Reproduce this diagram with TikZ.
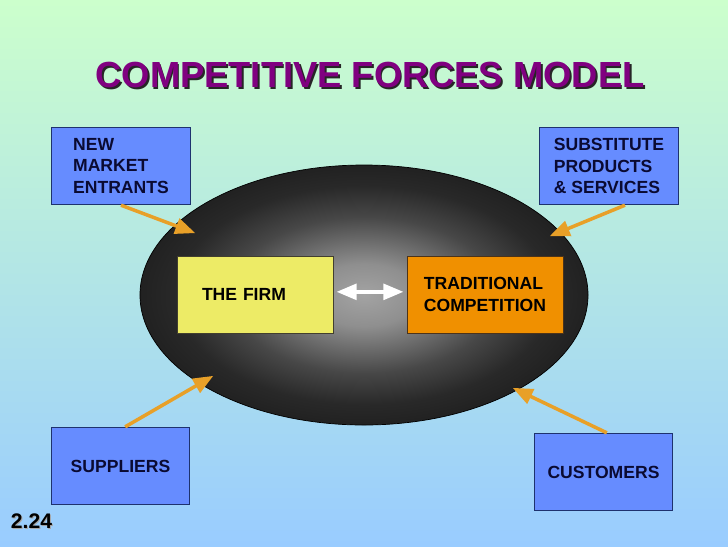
\documentclass[tikz,border=0pt]{standalone}
\usepackage{fontspec}
\setmainfont{Liberation Sans}
\usepackage{tikz}
\usetikzlibrary{arrows}
\usetikzlibrary{shapes.geometric}

\definecolor{forceblue}{RGB}{102,140,255}
\definecolor{navyline}{RGB}{30,50,110}
\definecolor{navytext}{RGB}{10,10,50}
\definecolor{firmyellow}{RGB}{237,235,102}
\definecolor{rivalorange}{RGB}{240,144,0}
\definecolor{pushorange}{RGB}{232,160,40}
\definecolor{titlepurple}{RGB}{128,0,128}
\definecolor{topgreen}{RGB}{204,255,204}
\definecolor{bottomblue}{RGB}{153,204,255}
\pgfdeclareradialshading{marketglow}{\pgfpoint{0bp}{0bp}}{%
  color(0bp)=(black!36); color(6bp)=(black!44); color(15bp)=(black!72);
  color(21bp)=(black!84); color(25bp)=(black!87); color(50bp)=(black!87)}

\begin{document}
\begin{tikzpicture}[x=0.03cm,y=-0.03cm,
			box font/.style={font=\fontsize{15}{18.7}\selectfont\bfseries},
			force node/.style={rectangle,draw=navyline,fill=forceblue,
				text=navytext,box font,align=left,line width=0.6pt,
				minimum width=4.16cm,minimum height=2.33cm},
			inner node/.style={rectangle,box font,align=left,line width=0.6pt,
				minimum width=4.68cm,minimum height=2.31cm},
			push/.style={-triangle 45,line width=3pt,color=pushorange}]
			
			% background
			\shade[top color=topgreen,bottom color=bottomblue] (0,0) rectangle (728,546);
			\useasboundingbox (0,0) rectangle (728,546);
			
			% title and its shadow
			\node[text=black!85,font=\fontsize{31}{37}\selectfont\bfseries] at (371.8,76.8) {COMPETITIVE FORCES MODEL};
			\node[text=titlepurple,font=\fontsize{31}{37}\selectfont\bfseries] (title) at (370,75) {COMPETITIVE FORCES MODEL};
			
			\node[ellipse,draw=black,line width=0.6pt,shading=marketglow,
				minimum width=13.44cm,minimum height=7.8cm] (M) at (364,295) {};
			
			\node[force node] (N) at (121,166) {NEW\\MARKET\\ENTRANTS};
			\node[force node] (S) at (609,166) {SUBSTITUTE\\PRODUCTS\\\& SERVICES};
			\node[force node] (P) at (120.5,466) {SUPPLIERS};
			\node[force node] (C) at (603.5,472) {CUSTOMERS};
			\node[inner node,draw=black!70!olive,fill=firmyellow,
				text width=3.18cm,inner xsep=0.75cm] (F) at (255,294.5) {THE FIRM};
			\node[inner node,draw=black!60!brown,fill=rivalorange] (R) at (485,294.5) {TRADITIONAL\\COMPETITION};
			
			% where the forces hit the market
			\coordinate (n) at (195,233);
			\coordinate (s) at (550,236);
			\coordinate (p) at (213,376);
			\coordinate (c) at (513,388);
			
			\draw[push] (N.south) -- (n);
			\draw[push] ([xshift=0.48cm]S.south) -- (s);
			\draw[push] ([xshift=0.14cm]P.north) -- (p);
			\draw[push] ([xshift=0.1cm]C.north) -- (c);
			
			\draw[triangle 45-triangle 45,line width=3pt,white,
				shorten <=3pt,shorten >=3pt] ([yshift=0.08cm]F.east) -- ([yshift=0.08cm]R.west);
			
			% slide number
			\node[text=black!35,font=\fontsize{18}{21}\selectfont\bfseries] at (32.5,522.5) {2.24};
			\node[font=\fontsize{18}{21}\selectfont\bfseries] (num) at (31.5,521.5) {2.24};
		\end{tikzpicture}
\end{document}
